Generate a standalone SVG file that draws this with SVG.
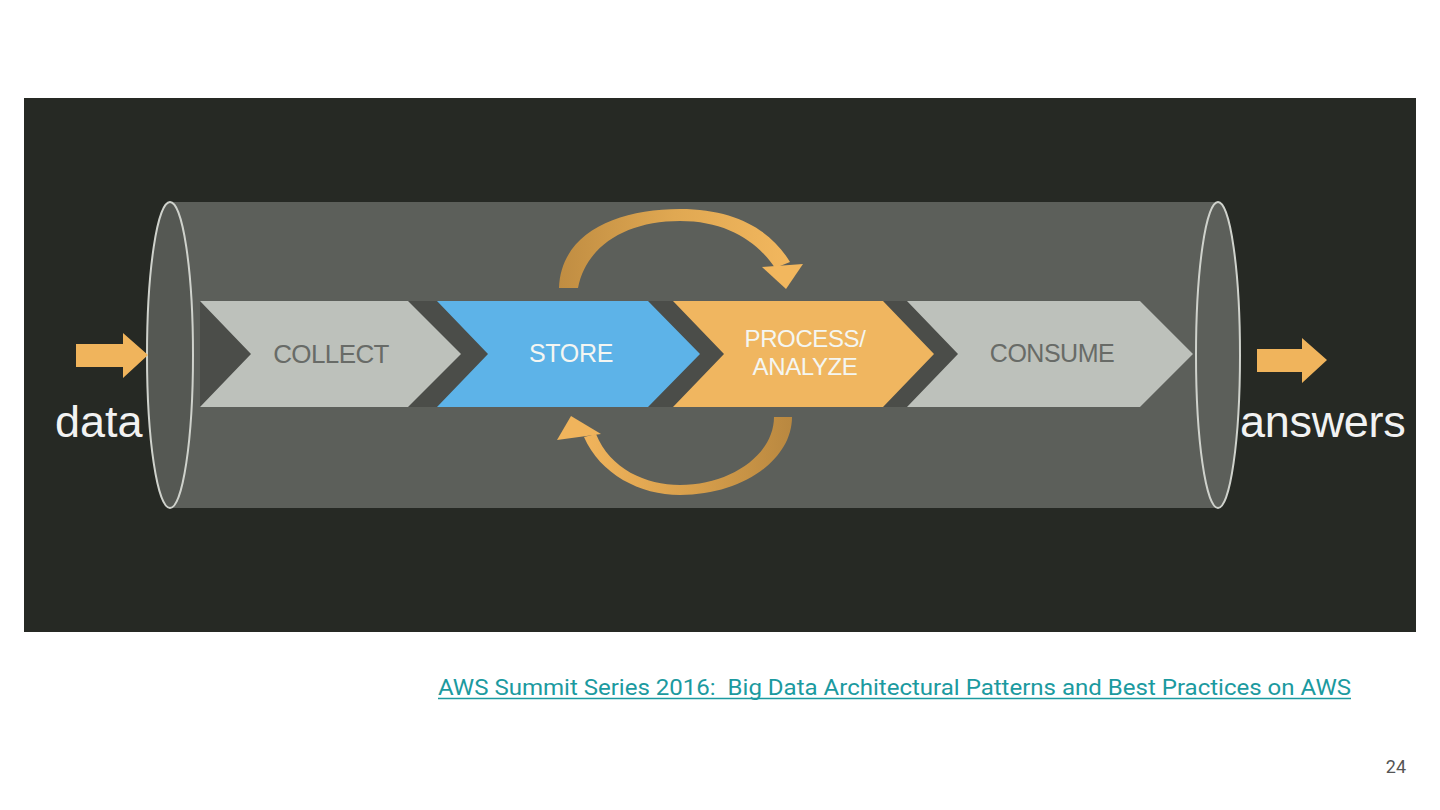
<svg xmlns="http://www.w3.org/2000/svg" width="1440" height="810" viewBox="0 0 1440 810">
<defs>
<style>
.lbl{font-family:"Liberation Sans",Arial,sans-serif;text-anchor:middle}
.gray{fill:#686b67}
.white{fill:#f4f6f2}
.big{font-family:"Liberation Sans",Arial,sans-serif;fill:#f2f2f2}
.orange{fill:#f0b45c}
</style>
<linearGradient id="gTop" x1="0" y1="0" x2="1" y2="0">
<stop offset="0" stop-color="#c08d42"/>
<stop offset="0.5" stop-color="#e0a852"/>
<stop offset="1" stop-color="#f2b75e"/>
</linearGradient>
<linearGradient id="gBot" x1="0" y1="0" x2="1" y2="0">
<stop offset="0" stop-color="#f0b45c"/>
<stop offset="0.5" stop-color="#d9a04c"/>
<stop offset="1" stop-color="#b98840"/>
</linearGradient>
</defs>
<rect width="1440" height="810" fill="#ffffff"/>
<rect x="24" y="98" width="1392" height="534" fill="#262924"/>
<g id="pipe">
<rect x="170" y="202" width="1048" height="306" fill="#5c5f5a"/>
<ellipse cx="170" cy="355" rx="23" ry="153" fill="#555853" stroke="#cfd2cc" stroke-width="2"/>
</g>
<polygon id="band" points="200,301 1140,301 1193,354 1140,407 200,407" fill="#4b4d49"/>
<g id="collect">
<polygon points="200,301 408,301 461,354 408,407 200,407 251,354" fill="#bdc1bb"/>
<text class="lbl gray" x="331" y="363" font-size="26" letter-spacing="-0.6">COLLECT</text>
</g>
<g id="store">
<polygon points="437,301 648,301 700,354 648,407 437,407 488,354" fill="#5db3e8"/>
<text class="lbl white" x="571" y="362" font-size="25" letter-spacing="-0.3">STORE</text>
</g>
<g id="process">
<polygon points="673,301 883,301 934,354 883,407 673,407 724,354" fill="#f0b660"/>
<text class="lbl white" x="805" y="347" font-size="24" letter-spacing="-0.4">PROCESS/</text>
<text class="lbl white" x="805" y="375" font-size="24" letter-spacing="-0.4">ANALYZE</text>
</g>
<g id="consume">
<polygon points="907,301 1140,301 1193,354 1140,407 907,407 958,354" fill="#bdc1bb"/>
<text class="lbl gray" x="1052" y="362" font-size="25" letter-spacing="-0.5">CONSUME</text>
</g>
<g id="pipe-end">
<ellipse cx="1218" cy="355" rx="22" ry="153" fill="#5c5f5a" stroke="#cfd2cc" stroke-width="2"/>
</g>
<g id="data">
<text class="big" x="55" y="437" font-size="45">data</text>
</g>
<g id="answers">
<text class="big" x="1240" y="437" font-size="45" letter-spacing="-0.3">answers</text>
</g>
<g id="connectors">
<polygon class="orange" points="76,344 123,344 123,333 148,355 123,378 123,367 76,367"/>
<polygon class="orange" points="1257,349 1302,349 1302,338 1327,360 1302,383 1302,372 1257,372"/>
<path d="M559 288 C561 232 618 209 680 209 C738 209 772 232 790 262 L775 268 C757 241 726 221 680 221 C626 221 586 246 578 288 Z" fill="url(#gTop)"/>
<polygon points="762,267 803,264 786,289" fill="#f2b75e"/>
<path d="M584 437 C600 474 640 495 680 495 C742 495 792 460 792 417 L774 417 C774 455 730 485 680 485 C646 485 610 469 596 434 Z" fill="url(#gBot)"/>
<polygon points="571,416 557,440 601,434" fill="#f0b45c"/>
</g>
<g id="footer">
<text x="438" y="695" xml:space="preserve" style="white-space:pre" font-family="Roboto,'Liberation Sans',sans-serif" font-size="22.5" fill="#1b9aa0" textLength="913" lengthAdjust="spacingAndGlyphs">AWS Summit Series 2016:  Big Data Architectural Patterns and Best Practices on AWS</text>
<line x1="438" y1="698.5" x2="1351" y2="698.5" stroke="#1b9aa0" stroke-width="1.3"/>
<text x="1406" y="773" font-family="Roboto,'Liberation Sans',sans-serif" font-size="18" fill="#555555" text-anchor="end">24</text>
</g>
</svg>
